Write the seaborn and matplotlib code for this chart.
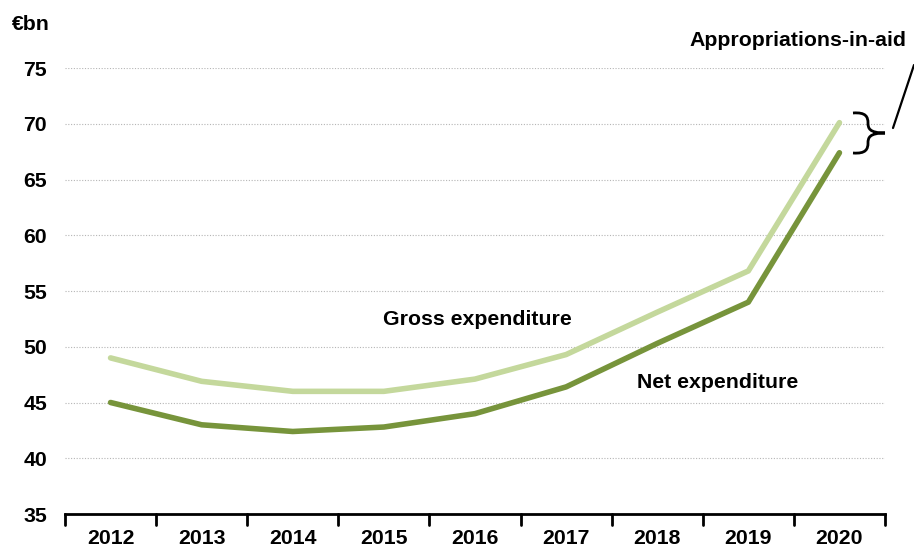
import matplotlib
matplotlib.use("Agg")
import matplotlib.pyplot as plt
import seaborn as sns
import pandas as pd
from matplotlib.path import Path
from matplotlib.patches import PathPatch

years = ["2012", "2013", "2014", "2015", "2016", "2017", "2018", "2019", "2020"]
gross = [49.0, 46.9, 46.0, 46.0, 47.1, 49.3, 53.1, 56.8, 70.1]
net = [45.0, 43.0, 42.4, 42.8, 44.0, 46.4, 50.3, 54.0, 67.4]
yticks = [35, 40, 45, 50, 55, 60, 65, 70, 75]

sns.set_theme(style="white")
plt.rcParams['font.family'] = ['Liberation Sans', 'DejaVu Sans']
plt.rcParams['text.color'] = 'black'
plt.rcParams['xtick.color'] = 'black'
plt.rcParams['ytick.color'] = 'black'

df = pd.DataFrame({"year": years * 2,
                   "value": gross + net,
                   "series": ["Gross expenditure"] * len(years) + ["Net expenditure"] * len(years)})

fig = plt.figure(figsize=(9.14, 5.48), dpi=100)
ax = fig.add_axes([65/914, 1-514/548, (885-65)/914, (514-68)/548])

sns.lineplot(data=df, x="year", y="value", hue="series",
             palette={"Gross expenditure": "#c4d89c", "Net expenditure": "#77943b"},
             linewidth=4, ax=ax, legend=False, sort=False, clip_on=False)
for l in ax.lines:
    l.set_solid_capstyle("round")
    l.set_solid_joinstyle("round")

FS = 15.3
ax.set_xlim(-0.5, len(years) - 0.5)
ax.set_ylim(35, 75)
ax.set_yticks(yticks)
ax.set_yticklabels([str(t) for t in yticks], fontsize=FS, fontweight="bold")
for t in yticks[1:]:
    ax.axhline(t, color="#b5b5b5", linestyle=(0, (1, 1.5)), linewidth=0.8, zorder=0)
ax.set_xticks(range(len(years)))
ax.set_xticklabels(years, fontsize=FS, fontweight="bold")
ax.tick_params(axis="x", length=0, pad=11)
ax.tick_params(axis="y", length=0, pad=13)
for b in [i - 0.5 for i in range(len(years) + 1)]:
    ax.plot([b, b], [35, 34.0], color="black", lw=2, clip_on=False)
ax.set_xlabel("")
ax.set_ylabel("")
for s in ["top", "right", "left"]:
    ax.spines[s].set_visible(False)
ax.spines["bottom"].set_color("black")
ax.spines["bottom"].set_linewidth(2)

fig.text(12/914, 1-24/548, "€bn", fontsize=FS, fontweight="bold", va="center", ha="left")
ax.text(4.03, 52.4, "Gross expenditure", fontsize=FS, fontweight="bold", ha="center", va="center")
ax.text(6.66, 46.75, "Net expenditure", fontsize=FS, fontweight="bold", ha="center", va="center")
fig.text(798/914, 1-40/548, "Appropriations-in-aid", fontsize=FS, fontweight="bold", ha="center", va="center")

def P(x, y):
    return (x/914, 1-y/548)
verts = [P(853, 113), P(866, 112), P(868, 117), P(868, 123),
         P(868, 128), P(869, 133), P(885, 133),
         P(869, 133), P(868, 138), P(868, 143),
         P(868, 149), P(866, 154), P(853, 153)]
codes = [Path.MOVETO] + [Path.CURVE4] * 12
fig.patches.append(PathPatch(Path(verts, codes), fill=False, lw=2.0, color="black",
                             transform=fig.transFigure))
fig.lines.append(plt.Line2D([893/914, 914/914], [1-128/548, 1-65/548], color="black", lw=1.6,
                            transform=fig.transFigure))

fig.savefig("out.png", dpi=100)
